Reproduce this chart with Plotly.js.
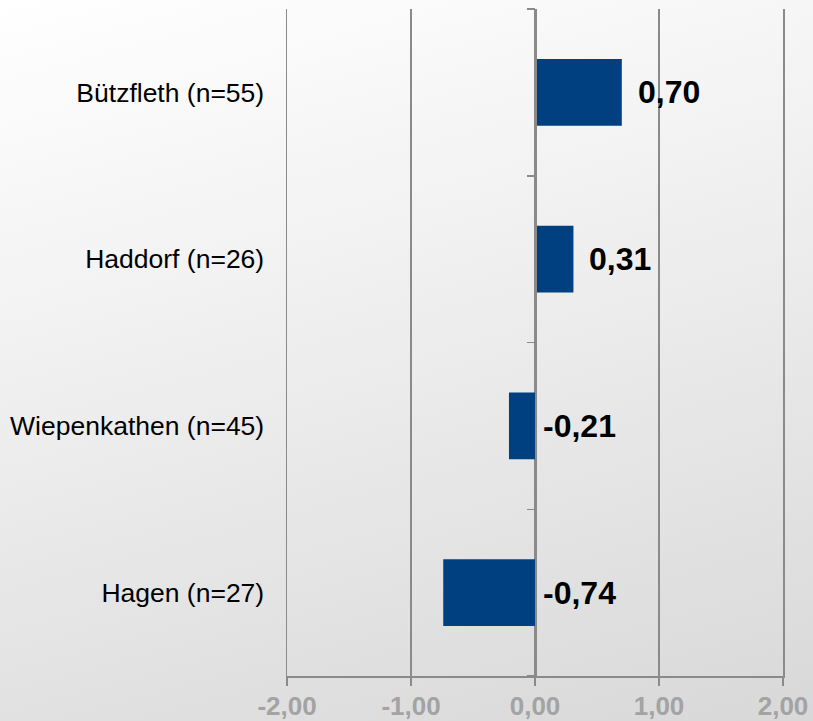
<!DOCTYPE html>
<html>
<head>
<meta charset="utf-8">
<script src="https://cdn.plot.ly/plotly-3.0.1.min.js"></script>
<style>
  html, body { margin: 0; padding: 0; }
  #chart { width: 813px; height: 721px; background: linear-gradient(165deg, #ffffff 0%, #f2f2f2 35%, #d8d8d8 100%); }
</style>
</head>
<body>
<div id="chart"></div>
<script>
const categories = ['Hagen (n=27)', 'Wiepenkathen (n=45)', 'Haddorf (n=26)', 'Bützfleth (n=55)'];
const values = [-0.74, -0.21, 0.31, 0.70];
const valueLabels = ['-0,74', '-0,21', '0,31', '0,70'];
const xTickValues = [-2, -1, 0, 1, 2];
const xTickLabels = ['-2,00', '-1,00', '0,00', '1,00', '2,00'];

const barColor = '#003f80';
const gridColor = '#8a8a8a';

const traces = [
  {
    type: 'bar', orientation: 'h',
    x: values, y: categories,
    xaxis: 'x', yaxis: 'y',
    marker: { color: barColor, line: { width: 0 } },
    hoverinfo: 'skip'
  },
  {
    type: 'bar', orientation: 'h',
    x: values, y: categories,
    xaxis: 'x', yaxis: 'y2',
    marker: { color: 'rgba(0,0,0,0)' },
    hoverinfo: 'skip', showlegend: false
  }
];

const annotations = values.map((v, i) => ({
  x: Math.max(v, 0), y: categories[i], xref: 'x', yref: 'y',
  text: valueLabels[i], showarrow: false,
  xanchor: 'left', yanchor: 'middle',
  xshift: v > 0 ? 14 : 6,
  font: { family: 'Liberation Sans, Arial, sans-serif', size: 32, color: '#000', weight: 'bold' }
}));

const layout = {
  width: 813, height: 721,
  margin: { l: 287, r: 30, t: 9, b: 45 },
  paper_bgcolor: 'rgba(0,0,0,0)',
  plot_bgcolor: 'rgba(0,0,0,0)',
  showlegend: false,
  bargap: 0.6,
  xaxis: {
    range: [-2, 2],
    tickvals: xTickValues, ticktext: xTickLabels,
    showgrid: true, gridcolor: gridColor, gridwidth: 1.5,
    zeroline: false,
    showline: true, linecolor: gridColor, linewidth: 1.5,
    ticks: 'outside', ticklen: 8, tickcolor: gridColor, tickwidth: 1.5,
    ticklabelstandoff: -2,
    tickfont: { family: 'Liberation Sans, Arial, sans-serif', size: 26, color: '#a3a3a3', weight: 'bold' },
    fixedrange: true
  },
  yaxis: {
    type: 'category',
    range: [-0.5, 3.5],
    showgrid: false, zeroline: false,
    showline: true, mirror: true, linecolor: gridColor, linewidth: 1.5,
    ticks: '', ticklabelstandoff: 16,
    tickfont: { family: 'Liberation Sans, Arial, sans-serif', size: 26.5, color: '#000' },
    fixedrange: true
  },
  yaxis2: {
    type: 'category',
    overlaying: 'y', anchor: 'free', position: 0.5,
    range: [-0.5, 3.5],
    showgrid: false, zeroline: false,
    showline: true, linecolor: gridColor, linewidth: 1.5,
    ticks: 'outside', tickson: 'boundaries', ticklen: 8, tickcolor: gridColor, tickwidth: 1.5,
    showticklabels: false,
    fixedrange: true
  },
  annotations: annotations
};

Plotly.newPlot('chart', traces, layout, { displayModeBar: false, staticPlot: true });
</script>
</body>
</html>
